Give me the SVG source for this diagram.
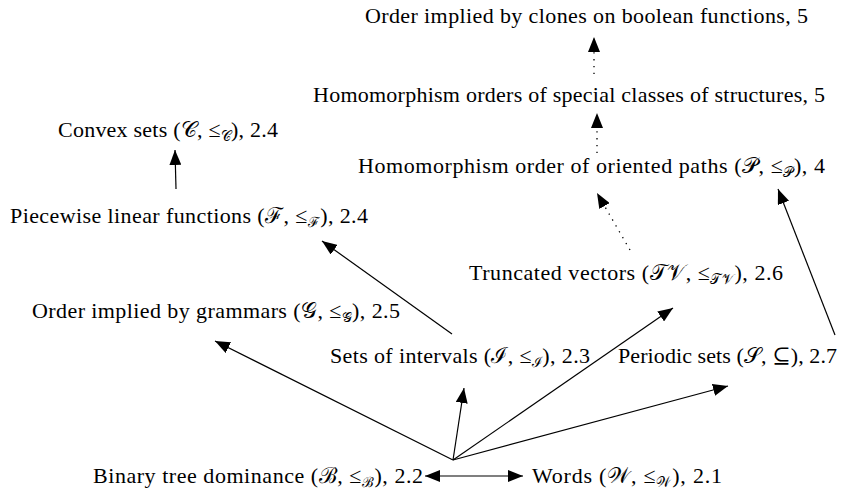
<svg xmlns="http://www.w3.org/2000/svg" width="841" height="493" viewBox="0 0 841 493">
<style>
text{font-family:"Liberation Serif","DejaVu Serif",serif;font-size:22px;fill:#000}
.s{font-size:14px}
.ln{stroke:#000;stroke-width:1.2;fill:none}
.dot{stroke:#000;stroke-width:1.3;fill:none;stroke-dasharray:1.3 5.5}
</style>
<defs>
<marker id="ah" markerUnits="userSpaceOnUse" markerWidth="16" markerHeight="12" refX="15" refY="6" orient="auto-start-reverse">
<path d="M0,0 L15,6 L0,12 Z" fill="#000" stroke="none"/>
</marker>
</defs>
<rect width="841" height="493" fill="#fff"/>
<g id="connectors">
<path class="dot" d="M594,74 L594,37" marker-end="url(#ah)"/>
<path class="dot" d="M597,153 L597,113" marker-end="url(#ah)"/>
<path class="dot" d="M630,250 L597,193" marker-end="url(#ah)"/>
<path class="ln" d="M835,335 L778,189" marker-end="url(#ah)"/>
<path class="ln" d="M176,189 L175,150" marker-end="url(#ah)"/>
<path class="ln" d="M452,334 L322,241" marker-end="url(#ah)"/>
<path class="ln" d="M453,460 L215,341" marker-end="url(#ah)"/>
<path class="ln" d="M453,460 L464,388" marker-end="url(#ah)"/>
<path class="ln" d="M453,460 L673,308" marker-end="url(#ah)"/>
<path class="ln" d="M453,460 L728,386" marker-end="url(#ah)"/>
<path class="ln" d="M425,476 L523,476" marker-start="url(#ah)" marker-end="url(#ah)"/>
</g>
<g id="clones"><text x="365" y="23" textLength="443">Order implied by clones on boolean functions, 5</text></g>
<g id="special"><text x="313" y="102" textLength="512">Homomorphism orders of special classes of structures, 5</text></g>
<g id="paths"><text x="358" y="173" textLength="467">Homomorphism order of oriented paths (𝒫, ≤<tspan class="s" dy="4">𝒫</tspan><tspan dy="-4">), 4</tspan></text></g>
<g id="convex"><text x="58" y="137" textLength="220">Convex sets (𝒞, ≤<tspan class="s" dy="4">𝒞</tspan><tspan dy="-4">), 2.4</tspan></text></g>
<g id="piecewise"><text x="10" y="223" textLength="358">Piecewise linear functions (ℱ, ≤<tspan class="s" dy="4">ℱ</tspan><tspan dy="-4">), 2.4</tspan></text></g>
<g id="truncated"><text x="469" y="280" textLength="314">Truncated vectors (𝒯𝒱, ≤<tspan class="s" dy="4">𝒯𝒱</tspan><tspan dy="-4">), 2.6</tspan></text></g>
<g id="grammars"><text x="32" y="318" textLength="368">Order implied by grammars (𝒢, ≤<tspan class="s" dy="4">𝒢</tspan><tspan dy="-4">), 2.5</tspan></text></g>
<g id="intervals"><text x="330" y="363" textLength="260">Sets of intervals (ℐ, ≤<tspan class="s" dy="4">ℐ</tspan><tspan dy="-4">), 2.3</tspan></text></g>
<g id="periodic"><text x="618" y="363" textLength="219">Periodic sets (𝒮, ⊆), 2.7</text></g>
<g id="binary"><text x="93" y="483" textLength="330">Binary tree dominance (ℬ, ≤<tspan class="s" dy="4">ℬ</tspan><tspan dy="-4">), 2.2</tspan></text></g>
<g id="words"><text x="532" y="483" textLength="190">Words (𝒲, ≤<tspan class="s" dy="4">𝒲</tspan><tspan dy="-4">), 2.1</tspan></text></g>
</svg>
